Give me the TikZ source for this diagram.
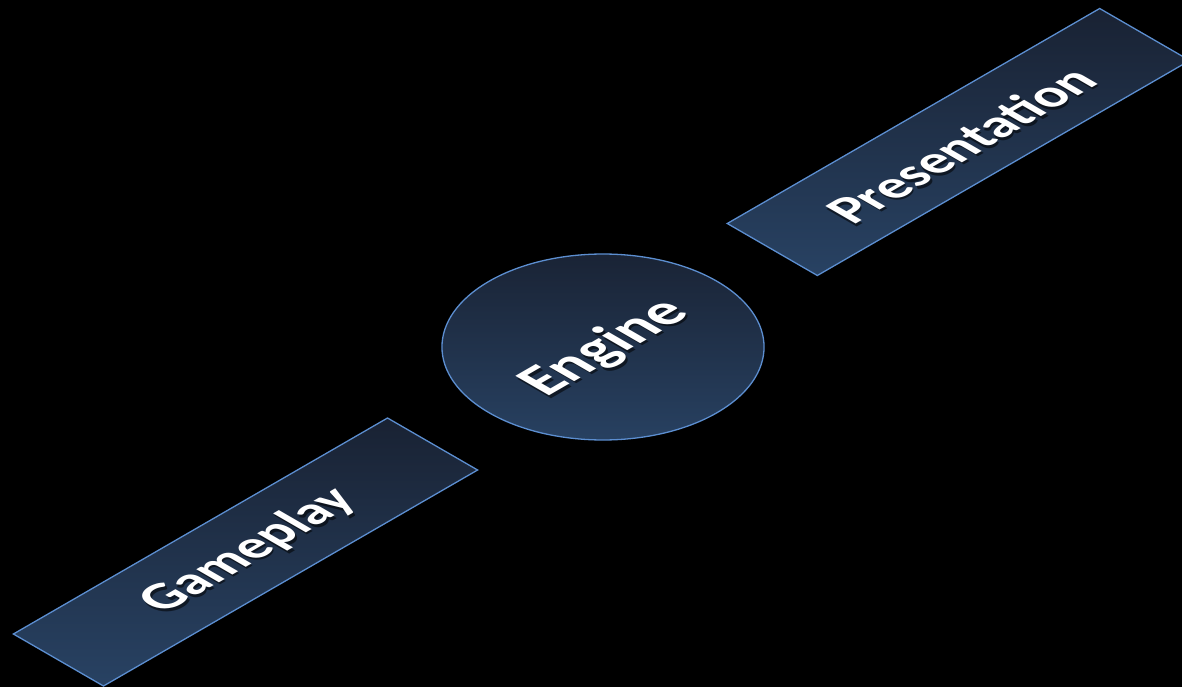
\documentclass[tikz,border=0pt]{standalone}
\usepackage{fontspec}
\setmainfont{Carlito}
\definecolor{platetop}{RGB}{25,34,51}
\definecolor{platebot}{RGB}{40,66,99}
\definecolor{plateedge}{RGB}{92,142,208}
\tikzset{
  % isometric ground plane: local x runs up-right, local y runs up-left
  iso/.style={cm={0.866,0.5,-0.866,0.5,(0,0)}},
  plate/.style={draw=plateedge, line width=1.3pt, top color=platetop,
    bottom color=platebot, inner sep=0pt, transform shape},
  labeltext/.style={text=white, font=\fontsize{54}{60}\selectfont\bfseries,
    inner sep=0pt, transform shape},
  biglabel/.style={font=\fontsize{60}{66}\selectfont\bfseries},
  labelshadow/.style={labeltext, text=black, opacity=0.55}
}
\begin{document}
\begin{tikzpicture}[x=1pt,y=-1pt]
  \fill[black] (0,0) rectangle (1182,687);
  \useasboundingbox (0,0) rectangle (1182,687);

  % Gameplay plate
  \begin{scope}[shift={(245.5,552)}, iso]
    \node[plate, rectangle, minimum width=432, minimum height=104] (gameplay) {};
  \end{scope}
  \begin{scope}[shift={(250,553.5)}, iso]
    \node[labelshadow] (gameplayshadow) {Gameplay};
  \end{scope}
  \begin{scope}[shift={(248.5,551)}, iso]
    \node[labeltext] (gameplaytext) {Gameplay};
  \end{scope}

  % Engine disc
  \begin{scope}[shift={(603,347)}, iso]
    \node[plate, circle, minimum size=263] (engine) {};
  \end{scope}
  \begin{scope}[shift={(607,350.5)}, iso]
    \node[labelshadow, biglabel] (engineshadow) {Engine};
  \end{scope}
  \begin{scope}[shift={(605,348)}, iso]
    \node[labeltext, biglabel] (enginetext) {Engine};
  \end{scope}

  % Presentation plate
  \begin{scope}[shift={(958.5,142)}, iso]
    \node[plate, rectangle, minimum width=430, minimum height=104] (presentation) {};
  \end{scope}
  \begin{scope}[shift={(962,147.5)}, iso]
    \node[labelshadow] (presentationshadow) {Presentation};
  \end{scope}
  \begin{scope}[shift={(960.5,145)}, iso]
    \node[labeltext] (presentationtext) {Presentation};
  \end{scope}
\end{tikzpicture}
\end{document}
